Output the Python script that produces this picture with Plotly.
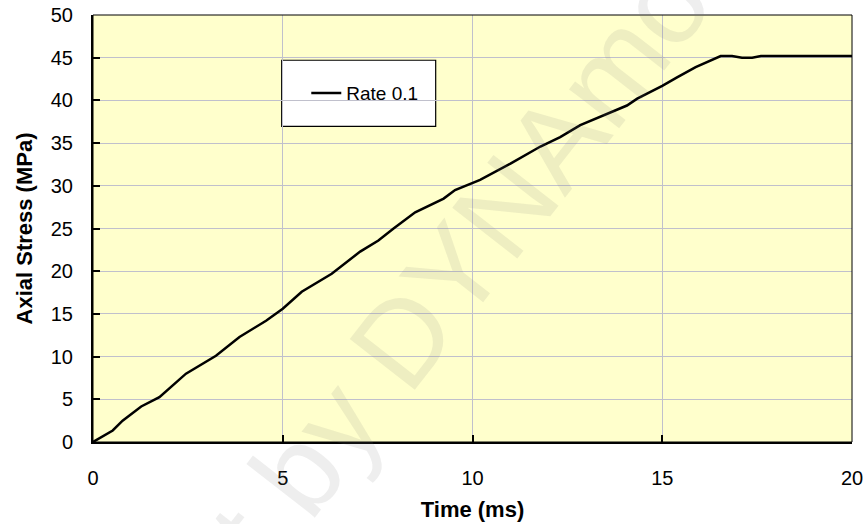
import plotly.graph_objects as go

time_ms = [0, 0.52, 0.78, 1.27, 1.75, 2.45, 3.24, 3.86, 4.56, 5.0, 5.5, 6.29, 7.04, 7.52, 7.92,
           8.49, 9.24, 9.54, 10.2, 11.0, 11.79, 12.31, 12.84, 13.28, 14.07, 14.34, 15.0, 15.39,
           15.88, 16.54, 16.84, 17.1, 17.37, 17.6, 20.0]
stress_mpa = [0, 1.35, 2.5, 4.16, 5.25, 8.0, 10.1, 12.3, 14.2, 15.6, 17.6, 19.7, 22.3, 23.6, 25.0,
              26.9, 28.5, 29.5, 30.7, 32.6, 34.6, 35.7, 37.1, 37.9, 39.4, 40.2, 41.7, 42.7,
              43.9, 45.2, 45.2, 45.0, 45.0, 45.2, 45.2]
series_name = "Rate 0.1"
x_ticks = [0, 5, 10, 15, 20]
y_ticks = [0, 5, 10, 15, 20, 25, 30, 35, 40, 45, 50]

fig = go.Figure()
fig.add_trace(go.Scatter(x=time_ms, y=stress_mpa, mode="lines", name=series_name,
                         line=dict(color="black", width=2.5)))

font = "Liberation Sans, Arial, sans-serif"
fig.update_layout(
    template="none",
    width=865, height=524,
    margin=dict(l=93, r=13, t=15, b=82, autoexpand=False),
    paper_bgcolor="white",
    plot_bgcolor="#FFFFCC",
    font=dict(family=font, size=20, color="black"),
    showlegend=True,
    legend=dict(x=0.281, y=0.817, xanchor="left", yanchor="middle",
                bgcolor="rgba(0,0,0,0)", borderwidth=0,
                font=dict(size=19, family=font)),
    xaxis=dict(range=[0, 20], tickvals=x_ticks, showgrid=True, gridcolor="#C0C0CC", gridwidth=1,
               showline=True, linecolor="black", linewidth=2, automargin=False,
               ticks="inside", ticklen=7, tickcolor="black", tickwidth=1.5,
               ticklabelstandoff=17, zeroline=False, tickfont=dict(size=20),
               title=dict(text="<b>Time (ms)</b>", font=dict(size=22), standoff=14)),
    yaxis=dict(range=[0, 50], tickvals=y_ticks, showgrid=True, gridcolor="#C0C0CC", gridwidth=1,
               showline=True, linecolor="black", linewidth=2, automargin=False,
               ticks="inside", ticklen=7, tickcolor="black", tickwidth=1.5,
               ticklabelstandoff=14, zeroline=False, tickfont=dict(size=20),
               title=dict(text="<b>Axial Stress (MPa)</b>", font=dict(size=22), standoff=12)),
    shapes=[
        dict(type="rect", xref="paper", yref="paper", x0=0, x1=1, y0=0, y1=1,
             line=dict(color="black", width=1), layer="above"),
        dict(type="rect", xref="paper", yref="paper", x0=0.2486, x1=0.4515, y0=0.739, y1=0.894,
             line=dict(color="black", width=1.2), fillcolor="white", layer="below"),
    ],
    annotations=[
        dict(text="Copyright by DYNAmore", xref="paper", yref="paper", x=0.332, y=0.072,
             xanchor="center", yanchor="middle",
             showarrow=False, textangle=-52,
             font=dict(size=120, family=font, color="rgba(120,120,120,0.13)")),
    ],
)

fig.write_html("out.html")
